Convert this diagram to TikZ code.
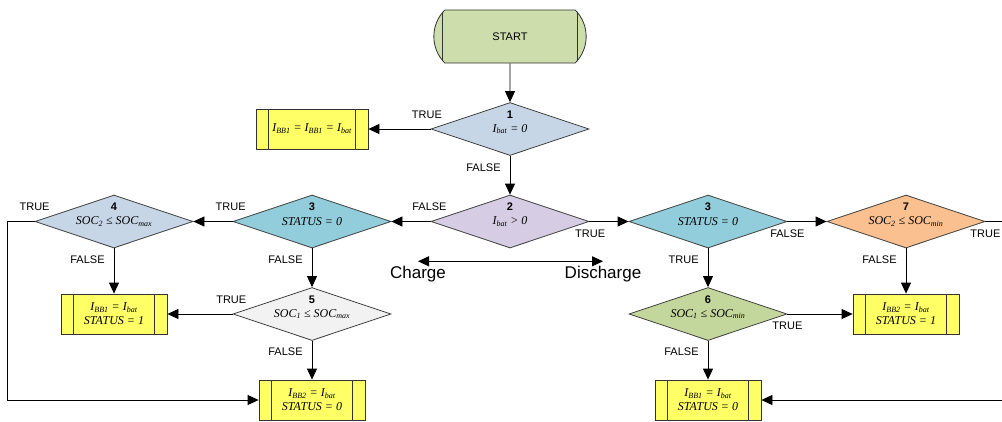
\documentclass[tikz,border=0pt]{standalone}
\usepackage{fontspec}
\setmainfont{Liberation Sans}
\newfontfamily\tnr{Liberation Serif}
\usetikzlibrary{arrows.meta,positioning,shapes.geometric,shapes.misc}

\definecolor{startgreen}{RGB}{205,221,172}
\definecolor{greyblue}{RGB}{198,214,230}
\definecolor{lilac}{RGB}{214,205,228}
\definecolor{paleteal}{RGB}{146,205,220}
\definecolor{palegrey}{RGB}{242,242,242}
\definecolor{olivegreen}{RGB}{195,214,155}
\definecolor{peach}{RGB}{250,192,144}
\definecolor{boxyellow}{RGB}{255,255,102}
\newcommand{\sbs}[1]{\textsubscript{#1}}

\begin{document}
\begin{tikzpicture}[x=1pt,y=1pt,line width=0.8pt,>={Triangle[length=11pt,width=10pt]},
  on grid,node distance=92.5pt and 198pt,
  decision/.style={diamond,draw=black!75,shape aspect=3,minimum width=158pt,minimum height=53pt,
    inner sep=0pt,font=\tnr\itshape\fontsize{12}{14}\selectfont,
    label={[numlbl]90:#1}},
  numlbl/.style={font=\bfseries\fontsize{11}{13}\selectfont,inner sep=0pt,anchor=base,yshift=-16pt},
  procbox/.style={rectangle,draw=black!80,fill=boxyellow,minimum width=106pt,minimum height=40pt,
    align=center,font=\tnr\itshape\fontsize{12}{14}\selectfont,
    path picture={\draw[black!80]
      ([xshift=12.5pt]path picture bounding box.north west) -- ([xshift=12.5pt]path picture bounding box.south west)
      ([xshift=-12.5pt]path picture bounding box.north east) -- ([xshift=-12.5pt]path picture bounding box.south east);}},
  terminal/.style={rounded rectangle,rounded rectangle arc length=90,draw=black!80,fill=startgreen,
    minimum width=159pt,minimum height=53pt,font=\fontsize{11}{13}\selectfont,
    path picture={\draw[black!80]
      ([xshift=12.5pt]path picture bounding box.north west) -- ([xshift=12.5pt]path picture bounding box.south west)
      ([xshift=-12.5pt]path picture bounding box.north east) -- ([xshift=-12.5pt]path picture bounding box.south east);}},
  lbl/.style={font=\fontsize{11}{13}\selectfont,inner sep=2pt},
  big/.style={font=\fontsize{17}{20}\selectfont,inner sep=0pt}]
  \useasboundingbox (0,0) rectangle (1002,-421);

  \node[terminal]                      (start)            at (510,-36.5) {START};
  \node[decision=1,fill=greyblue]      (d1) [below=of start]  {I\sbs{bat} = 0};
  \node[procbox,minimum width=112pt]   (b1) [left=of d1]      {I\sbs{BB1} = I\sbs{BB1} = I\sbs{bat}};
  \node[decision=2,fill=lilac]         (d2) [below=of d1]     {I\sbs{bat} > 0};
  \node[decision=3,fill=paleteal]      (d3c) [left=of d2]     {STATUS = 0};
  \node[decision=4,fill=greyblue]      (d4) [left=of d3c]     {SOC\sbs{2} ≤ SOC\sbs{max}};
  \node[decision=5,fill=palegrey]      (d5) [below=of d3c]    {SOC\sbs{1} ≤ SOC\sbs{max}};
  \node[procbox]                       (b4) [below=of d4]     {I\sbs{BB1} = I\sbs{bat}\\STATUS = 1};
  \node[procbox]                       (b5) [below=86pt of d5] {I\sbs{BB2} = I\sbs{bat}\\STATUS = 0};
  \node[decision=3,fill=paleteal]      (d3d) [right=of d2]    {STATUS = 0};
  \node[decision=7,fill=peach]         (d7) [right=of d3d]    {SOC\sbs{2} ≤ SOC\sbs{min}};
  \node[decision=6,fill=olivegreen]    (d6) [below=of d3d]    {SOC\sbs{1} ≤ SOC\sbs{min}};
  \node[procbox]                       (b7) [below=of d7]     {I\sbs{BB2} = I\sbs{bat}\\STATUS = 1};
  \node[procbox]                       (b6) [below=86pt of d6] {I\sbs{BB1} = I\sbs{bat}\\STATUS = 0};

  \node[big,anchor=base] (chg)  at (418,-278) {Charge};
  \node[big,anchor=base] (dchg) at (603,-278) {Discharge};

  \path[->] (start) edge (d1)
        (d1) edge node[lbl,above=8pt,pos=0.06] {TRUE} (b1)
        (d1) edge node[lbl,left=7pt,pos=0.3] {FALSE} (d2)
        (d2) edge node[lbl,above=8pt,pos=0.03] {FALSE} (d3c)
        (d2) edge node[lbl,below=6pt,pos=0.02] {TRUE} (d3d)
        (d3c) edge node[lbl,above=8pt,pos=0.05] {TRUE} (d4)
        (d3c) edge node[lbl,left=7pt,pos=0.3] {FALSE} (d5)
        (d4) edge node[lbl,left=7pt,pos=0.26] {FALSE} (b4)
        (d5) edge node[lbl,above=8pt,pos=0.02] {TRUE} (b4)
        (d5) edge node[lbl,left=7pt,pos=0.29] {FALSE} (b5)
        (d3d) edge node[lbl,below=6pt,pos=0] {FALSE} (d7)
        (d3d) edge node[lbl,left=7pt,pos=0.3] {TRUE} (d6)
        (d7) edge node[lbl,left=7pt,pos=0.26] {FALSE} (b7)
        (d6) edge node[lbl,below=6pt,pos=0] {TRUE} (b7)
        (d6) edge node[lbl,left=7pt,pos=0.28] {FALSE} (b6);
  \draw[->] (d4.west) -- node[lbl,above=8pt,pos=0] {TRUE} ++(-27,0) |- (b5);
  \draw[->] (d7.east) -- node[lbl,below=6pt,pos=0] {TRUE} ++(20,0) |- (b6);
  \draw[<->] ([yshift=4pt]chg.north) -- ([yshift=4pt]dchg.north);
\end{tikzpicture}
\end{document}
